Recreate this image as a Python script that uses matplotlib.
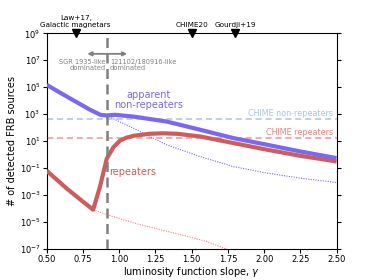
import numpy as np
import matplotlib
matplotlib.use("Agg")
import matplotlib.pyplot as plt

# ---- data ----
app_gamma = [0.50, 0.60, 0.70, 0.80, 0.87, 0.915, 0.97, 1.10, 1.33, 1.56, 1.79, 2.02, 2.25, 2.50]
app_counts = [1.5e5, 3.5e4, 8.5e3, 2.1e3, 9.0e2, 8.0e2, 9.0e2, 6.6e2, 2.8e2, 69.0, 16.6, 5.4, 1.7, 0.55]

rep_gamma = [0.50, 0.64, 0.73, 0.82, 0.868, 0.914, 0.96, 1.006, 1.05, 1.10, 1.21, 1.30, 1.40, 1.56, 1.79, 2.02, 2.25, 2.50]
rep_counts = [6.3e-2, 2.9e-3, 4.8e-4, 8.1e-5, 4.4e-3, 5.0e-1, 3.5, 11.0, 18.0, 25.0, 35.0, 38.0, 35.0, 22.0, 7.1, 2.3, 0.81, 0.31]

nr_dot_gamma = [0.915, 1.00, 1.097, 1.212, 1.327, 1.557, 1.787, 2.017, 2.247, 2.50]
nr_dot_counts = [8.0e2, 2.8e2, 91.0, 22.0, 5.4, 0.72, 0.13, 0.043, 0.018, 0.0085]

rep_dot_gamma = [0.82, 0.914, 1.143, 1.373, 1.603, 1.718, 1.80]
rep_dot_counts = [8.1e-5, 3.5e-5, 6.3e-6, 1.55e-6, 3.6e-7, 1.2e-7, 5.6e-8]

chime_nonrep = 474
chime_rep = 18
gamma_split = 0.915

ref_gamma = [0.70, 1.50, 1.80]
ref_labels = ["Law+17,\nGalactic magnetars", "CHIME20", "Gourdji+19"]

yticks = [1e-7, 1e-5, 1e-3, 1e-1, 1e1, 1e3, 1e5, 1e7, 1e9]
xticks = [0.50, 0.75, 1.00, 1.25, 1.50, 1.75, 2.00, 2.25, 2.50]

# ---- colours ----
purple = "#7b68ee"
red = "#cd5c5c"
lblue = "#a9c4e6"
lred = "#f08080"
grey = "#808080"

fig = plt.figure(figsize=(3.74, 2.80), dpi=100)
ax = fig.add_axes([0.125, 0.111, 0.775, 0.770])

ax.axhline(chime_nonrep, color=lblue, lw=1.1, ls=(0, (4, 2.5)), zorder=1)
ax.axhline(chime_rep, color=lred, lw=1.1, ls=(0, (4, 2.5)), alpha=0.85, zorder=1)

ax.plot(nr_dot_gamma, nr_dot_counts, color=purple, lw=0.8, ls=(0, (1, 1.2)), zorder=2)
ax.plot(rep_dot_gamma, rep_dot_counts, color=lred, lw=0.8, ls=(0, (1, 1.2)), zorder=2)

ax.plot(app_gamma, app_counts, color=purple, lw=3.0, zorder=4, solid_capstyle="butt")
ax.plot(rep_gamma, rep_counts, color=red, lw=3.0, zorder=3, solid_capstyle="butt")

ax.axvline(gamma_split, color=grey, lw=1.8, ls=(0, (4, 2.2)), zorder=5)

ax.set_yscale("log")
ax.set_xlim(0.5, 2.5)
ax.set_ylim(1e-7, 1e9)
ax.set_yticks(yticks)
ax.yaxis.set_minor_locator(matplotlib.ticker.NullLocator())
ax.set_xticks(xticks)
ax.set_xticklabels([f"{v:.2f}" for v in xticks])
ax.tick_params(axis="both", labelsize=6, length=3, width=0.8, direction="out", pad=1.5)
ax.tick_params(axis="y", right=True)
for s in ax.spines.values():
    s.set_linewidth(0.8)

ax.set_xlabel(r"luminosity function slope, $\gamma$", fontsize=7, labelpad=0.5)
ax.set_ylabel("# of detected FRB sources", fontsize=7, labelpad=2)

# reference markers on top
ax.plot(ref_gamma, [1e9] * len(ref_gamma), marker="v", ls="none", color="black",
        ms=5.5, clip_on=False, zorder=6)
for g, lab in zip(ref_gamma, ref_labels):
    ax.annotate(lab, xy=(g, 1e9), xytext=(0, 4), textcoords="offset points",
                ha="center", va="bottom", fontsize=5.2, linespacing=1.1,
                annotation_clip=False)

# arrow and regime text
ax.annotate("", xy=(0.78, 3e7), xytext=(1.055, 3e7),
            arrowprops=dict(arrowstyle="<|-|>", color=grey, lw=1.3, mutation_scale=6,
                            shrinkA=0, shrinkB=0))
ax.text(gamma_split - 0.01, 4.5e6, "SGR 1935-like\ndominated", ha="right", va="center",
        fontsize=4.8, color=grey, linespacing=1.0)
ax.text(gamma_split + 0.02, 4.5e6, "121102/180916-like\ndominated", ha="left", va="center",
        fontsize=4.8, color=grey, linespacing=1.0)

ax.text(1.20, 1.1e4, "apparent\nnon-repeaters", ha="center", va="center",
        fontsize=7, color=purple, linespacing=1.0)
ax.text(0.93, 4.7e-2, "repeaters", ha="left", va="center", fontsize=7, color=red)

ax.text(2.475, chime_nonrep * 1.15, "CHIME non-repeaters", ha="right", va="bottom",
        fontsize=5.8, color=lblue)
ax.text(2.475, chime_rep * 1.15, "CHIME repeaters", ha="right", va="bottom",
        fontsize=5.8, color=lred)

fig.savefig("out.png", dpi=100)
